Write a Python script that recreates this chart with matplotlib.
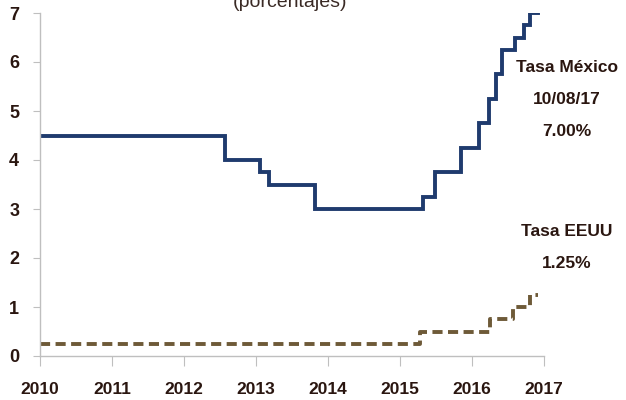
import matplotlib
matplotlib.use("Agg")
import matplotlib.pyplot as plt

# Data (fractional years, step-post values)
mx_x = [2010.0, 2012.57, 2013.06, 2013.18, 2013.82, 2015.32, 2015.49, 2015.85,
        2016.10, 2016.24, 2016.33, 2016.41, 2016.60, 2016.72, 2016.81, 2016.91]
mx_y = [4.5, 4.0, 3.75, 3.5, 3.0, 3.25, 3.75, 4.25,
        4.75, 5.25, 5.75, 6.25, 6.5, 6.75, 7.0, 7.0]
us_x = [2010.0, 2015.28, 2016.25, 2016.57, 2016.80, 2016.91]
us_y = [0.25, 0.5, 0.75, 1.0, 1.25, 1.25]
years = [2010, 2011, 2012, 2013, 2014, 2015, 2016, 2017]
yticks = [0, 1, 2, 3, 4, 5, 6, 7]

plt.rcParams['font.family'] = ['Liberation Sans', 'DejaVu Sans']

fig = plt.figure(figsize=(6.26, 4.0), dpi=100)
ax = fig.add_axes([40/626, 44/400, (544-40)/626, (356-13)/400])

navy = '#1f3b6e'
brown = '#6e5a38'
txt = '#2a1610'
gray = '#bfbfbf'

ax.plot(mx_x, mx_y, drawstyle='steps-post', color=navy, lw=2.8, solid_joinstyle='miter')
ax.plot(us_x, us_y, drawstyle='steps-post', color=brown, lw=2.8,
        dashes=(2.6, 1.4))

ax.set_xlim(2010, 2017)
ax.set_ylim(0, 7)
ax.set_xticks(years)
ax.set_xticklabels([str(y) for y in years])
ax.set_yticks(yticks)

for s in ['top', 'right']:
    ax.spines[s].set_visible(False)
for s in ['left', 'bottom']:
    ax.spines[s].set_color(gray)
    ax.spines[s].set_linewidth(1.0)

ax.tick_params(axis='x', direction='out', length=7, color=gray, pad=12,
               labelsize=12.5, labelcolor=txt)
ax.tick_params(axis='y', direction='out', length=5, color=gray, pad=10,
               labelsize=13, labelcolor=txt)
for lab in ax.get_xticklabels() + ax.get_yticklabels():
    lab.set_fontweight('bold')

fs = 12.5
fig.text(567/626, (400-68)/400, 'Tasa México', ha='center', va='center',
         fontsize=fs, fontweight='bold', color=txt)
fig.text(567/626, (400-100)/400, '10/08/17', ha='center', va='center',
         fontsize=fs, fontweight='bold', color=txt)
fig.text(567/626, (400-131)/400, '7.00%', ha='center', va='center',
         fontsize=fs, fontweight='bold', color=txt)
fig.text(567/626, (400-231)/400, 'Tasa EEUU', ha='center', va='center',
         fontsize=fs, fontweight='bold', color=txt)
fig.text(567/626, (400-263)/400, '1.25%', ha='center', va='center',
         fontsize=fs, fontweight='bold', color=txt)

fig.text(290/626, (400-7)/400, '(porcentajes)', ha='center', va='baseline',
         fontsize=14, color='#3a2a25')

fig.savefig('out.png', dpi=100)
